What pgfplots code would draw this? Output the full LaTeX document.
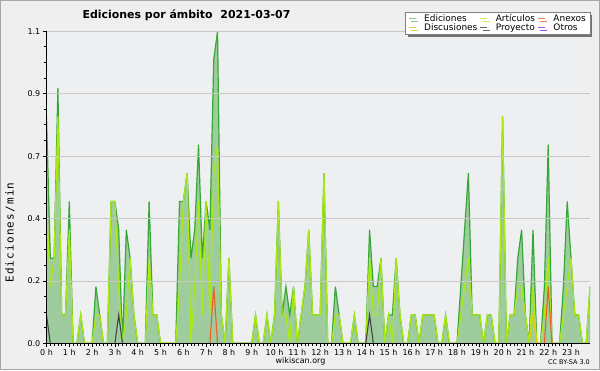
\documentclass[border=0pt]{standalone}
\usepackage{fontspec}
\setmainfont{DejaVu Sans}
\newfontfamily\ylabfont[LetterSpace=11]{DejaVu Sans Mono}
\usepackage{pgfplots}
\usepackage{pgfplotstable}
\pgfplotsset{compat=1.18}
\usetikzlibrary{shadows}
\definecolor{bgout}{HTML}{EFEFEF}
\definecolor{plotbg}{HTML}{EDEFF1}
\definecolor{fillgreen}{HTML}{9ECC9E}
\definecolor{totgreen}{HTML}{36A836}
\definecolor{artgreen}{HTML}{AAEA10}
\definecolor{anexo}{HTML}{EE5F1E}
\definecolor{discu}{HTML}{F0C800}
\definecolor{proy}{HTML}{444444}
\definecolor{otros}{HTML}{9944EE}
\definecolor{legEd}{HTML}{80CC80}
\definecolor{legArt}{HTML}{CCEE55}
\definecolor{legAnx}{HTML}{EE8050}
\definecolor{legDis}{HTML}{EECC44}
\definecolor{legPro}{HTML}{666666}
\definecolor{legOtr}{HTML}{9955EE}

\pgfplotstableread[row sep=\\]{
k v\\
0 0.8\\ 1 0.3\\ 2 0.3\\ 3 0.9\\ 4 0.1\\ 5 0.1\\ 6 0.5\\ 7 0\\ 8 0\\ 9 0.1\\
10 0\\ 11 0\\ 12 0\\ 13 0.2\\ 14 0.1\\ 15 0\\ 16 0\\ 17 0.5\\ 18 0.5\\ 19 0.4\\
20 0\\ 21 0.4\\ 22 0.3\\ 23 0.1\\ 24 0\\ 25 0\\ 26 0\\ 27 0.5\\ 28 0.1\\ 29 0.1\\
30 0\\ 31 0\\ 32 0\\ 33 0\\ 34 0\\ 35 0.5\\ 36 0.5\\ 37 0.6\\ 38 0.3\\ 39 0.4\\
40 0.7\\ 41 0.3\\ 42 0.5\\ 43 0.4\\ 44 1.0\\ 45 1.1\\ 46 0.1\\ 47 0\\ 48 0.3\\ 49 0\\
50 0\\ 51 0\\ 52 0\\ 53 0\\ 54 0\\ 55 0.1\\ 56 0\\ 57 0\\ 58 0.1\\ 59 0\\
60 0.1\\ 61 0.5\\ 62 0.1\\ 63 0.2\\ 64 0.1\\ 65 0.2\\ 66 0\\ 67 0.1\\ 68 0.2\\ 69 0.4\\
70 0.1\\ 71 0.1\\ 72 0.1\\ 73 0.6\\ 74 0\\ 75 0\\ 76 0.2\\ 77 0.1\\ 78 0\\ 79 0\\
80 0\\ 81 0.1\\ 82 0\\ 83 0\\ 84 0\\ 85 0.4\\ 86 0.2\\ 87 0.2\\ 88 0.3\\ 89 0\\
90 0.1\\ 91 0.1\\ 92 0.3\\ 93 0.1\\ 94 0\\ 95 0\\ 96 0.1\\ 97 0.1\\ 98 0\\ 99 0.1\\
100 0.1\\ 101 0.1\\ 102 0.1\\ 103 0\\ 104 0\\ 105 0.1\\ 106 0\\ 107 0\\ 108 0\\ 109 0.2\\
110 0.4\\ 111 0.6\\ 112 0.1\\ 113 0.1\\ 114 0.1\\ 115 0\\ 116 0.1\\ 117 0.1\\ 118 0\\ 119 0\\
120 0.8\\ 121 0\\ 122 0.1\\ 123 0.1\\ 124 0.3\\ 125 0.4\\ 126 0.1\\ 127 0\\ 128 0.4\\ 129 0\\
130 0\\ 131 0.2\\ 132 0.7\\ 133 0\\ 134 0\\ 135 0\\ 136 0.2\\ 137 0.5\\ 138 0.3\\ 139 0.1\\
140 0.1\\ 141 0\\ 142 0\\ 143 0.2\\
}\total

\pgfplotstableread[row sep=\\]{
k v\\
0 0.5\\ 1 0.2\\ 2 0.3\\ 3 0.8\\ 4 0.1\\ 5 0.1\\ 6 0.4\\ 7 0\\ 8 0\\ 9 0.1\\
10 0\\ 11 0\\ 12 0\\ 13 0.1\\ 14 0.1\\ 15 0\\ 16 0\\ 17 0.5\\ 18 0.5\\ 19 0.2\\
20 0\\ 21 0.1\\ 22 0.3\\ 23 0.1\\ 24 0\\ 25 0\\ 26 0\\ 27 0.3\\ 28 0.1\\ 29 0.1\\
30 0\\ 31 0\\ 32 0\\ 33 0\\ 34 0\\ 35 0.2\\ 36 0.5\\ 37 0.6\\ 38 0\\ 39 0.2\\
40 0.5\\ 41 0.1\\ 42 0.5\\ 43 0.1\\ 44 0.6\\ 45 0.7\\ 46 0.1\\ 47 0\\ 48 0.3\\ 49 0\\
50 0\\ 51 0\\ 52 0\\ 53 0\\ 54 0\\ 55 0.1\\ 56 0\\ 57 0\\ 58 0.1\\ 59 0\\
60 0.1\\ 61 0.5\\ 62 0.1\\ 63 0.1\\ 64 0\\ 65 0.2\\ 66 0\\ 67 0.1\\ 68 0.2\\ 69 0.4\\
70 0.1\\ 71 0.1\\ 72 0.1\\ 73 0.6\\ 74 0\\ 75 0\\ 76 0.1\\ 77 0.1\\ 78 0\\ 79 0\\
80 0\\ 81 0.1\\ 82 0\\ 83 0\\ 84 0\\ 85 0.3\\ 86 0.1\\ 87 0.1\\ 88 0.3\\ 89 0\\
90 0.1\\ 91 0\\ 92 0.3\\ 93 0.1\\ 94 0\\ 95 0\\ 96 0.1\\ 97 0.1\\ 98 0\\ 99 0.1\\
100 0.1\\ 101 0.1\\ 102 0.1\\ 103 0\\ 104 0\\ 105 0.1\\ 106 0\\ 107 0\\ 108 0\\ 109 0.1\\
110 0.2\\ 111 0.3\\ 112 0.1\\ 113 0.1\\ 114 0.1\\ 115 0\\ 116 0.1\\ 117 0.1\\ 118 0\\ 119 0\\
120 0.8\\ 121 0\\ 122 0.1\\ 123 0.1\\ 124 0.2\\ 125 0.2\\ 126 0.1\\ 127 0\\ 128 0.2\\ 129 0\\
130 0\\ 131 0.1\\ 132 0.3\\ 133 0\\ 134 0\\ 135 0\\ 136 0.1\\ 137 0.2\\ 138 0.3\\ 139 0.1\\
140 0.1\\ 141 0\\ 142 0\\ 143 0.2\\
}\articulos

\begin{document}
\begin{tikzpicture}[x=1bp,y=1bp]
\path[use as bounding box] (0,0) rectangle (600,370);
\fill[bgout] (0,0) rectangle (600,370);
\draw[gray!70, line width=1bp] (0.5,0.5) rectangle (599.5,369.5);
\begin{axis}[
  at={(46.5bp,26.7bp)}, anchor=south west,
  scale only axis, width=543.5bp, height=312bp,
  xmin=0, xmax=143, ymin=0, ymax=1.1,
  axis background/.style={fill=plotbg},
  axis x line*=bottom, axis y line*=left,
  axis line style={black, line width=1bp},
  tick align=outside,
  major tick length=4bp, minor tick length=2.6bp,
  every tick/.style={black, line width=0.8bp},
  xtick={0,6,...,138},
  xticklabels={0 h,1 h,2 h,3 h,4 h,5 h,6 h,7 h,8 h,9 h,10 h,11 h,12 h,13 h,14 h,15 h,16 h,17 h,18 h,19 h,20 h,21 h,22 h,23 h},
  minor x tick num=5,
  ytick={0,0.22,0.44,0.66,0.88,1.1},
  yticklabels={0.0,0.2,0.4,0.7,0.9,1.1},
  minor y tick num=3,
  ymajorgrids,
  major grid style={draw=black!22, line width=0.8bp},
  xticklabel style={font=\fontsize{8}{9}\selectfont, inner sep=1bp, yshift=-0.5bp},
  yticklabel style={font=\fontsize{8}{9}\selectfont, inner sep=1bp, xshift=-1bp},
  axis on top,
  legend columns=3,
  legend cell align=left,
  legend image code/.code={\draw[#1, line width=1bp] (0bp,0bp) -- (7bp,0bp);},
  legend style={at={(1.0,1.062)}, anchor=north east, draw=gray, fill=white,
    font=\fontsize{9}{10}\selectfont,
    nodes={inner xsep=1bp, inner ysep=0.6bp},
    row sep=-0.5bp,
    inner xsep=3bp, inner ysep=1.5bp,
    /tikz/every odd column/.append style={column sep=7bp},
    /tikz/every even column/.append style={column sep=1.5bp},
    drop shadow={shadow xshift=2.5bp, shadow yshift=-2.5bp, fill=black!55, opacity=1}},
]
\addlegendimage{legEd}\addlegendentry{Ediciones}
\addlegendimage{legArt}\addlegendentry{Artículos}
\addlegendimage{legAnx}\addlegendentry{Anexos}
\addlegendimage{legDis}\addlegendentry{Discusiones}
\addlegendimage{legPro}\addlegendentry{Proyecto}
\addlegendimage{legOtr}\addlegendentry{Otros}

\addplot[fill=fillgreen, draw=none, forget plot] table[x=k, y=v] {\total} \closedcycle;
\addplot[color=totgreen, line width=1.2bp, forget plot] table[x=k, y=v] {\total};
\addplot[color=artgreen, line width=1.2bp, forget plot] table[x=k, y=v] {\articulos};
\addplot[color=anexo, line width=1.1bp, forget plot] coordinates {(43,0) (44,0.2) (45,0)};
\addplot[color=anexo, line width=1.1bp, forget plot] coordinates {(131,0) (132,0.2) (133,0)};
\addplot[color=discu, line width=1.1bp, forget plot] coordinates {(127,0) (128,0.1) (129,0)};
\addplot[color=proy, line width=1.1bp, forget plot] coordinates {(0,0.1) (1,0)};
\addplot[color=proy, line width=1.1bp, forget plot] coordinates {(18,0) (19,0.1) (20,0)};
\addplot[color=proy, line width=1.1bp, forget plot] coordinates {(84,0) (85,0.1) (86,0)};
\end{axis}
\node[font=\fontsize{11}{13}\selectfont\bfseries] at (186.5,355) {Ediciones por ámbito\ \ 2021-03-07};
\node[font=\ylabfont\fontsize{11}{13}\selectfont, rotate=90] at (10,137.5) {Ediciones/min};
\node[font=\fontsize{8}{9}\selectfont] at (300.5,8.5) {wikiscan.org};
\node[font=\fontsize{6.5}{7}\selectfont] at (569,7.5) {CC BY-SA 3.0};
\end{tikzpicture}
\end{document}
